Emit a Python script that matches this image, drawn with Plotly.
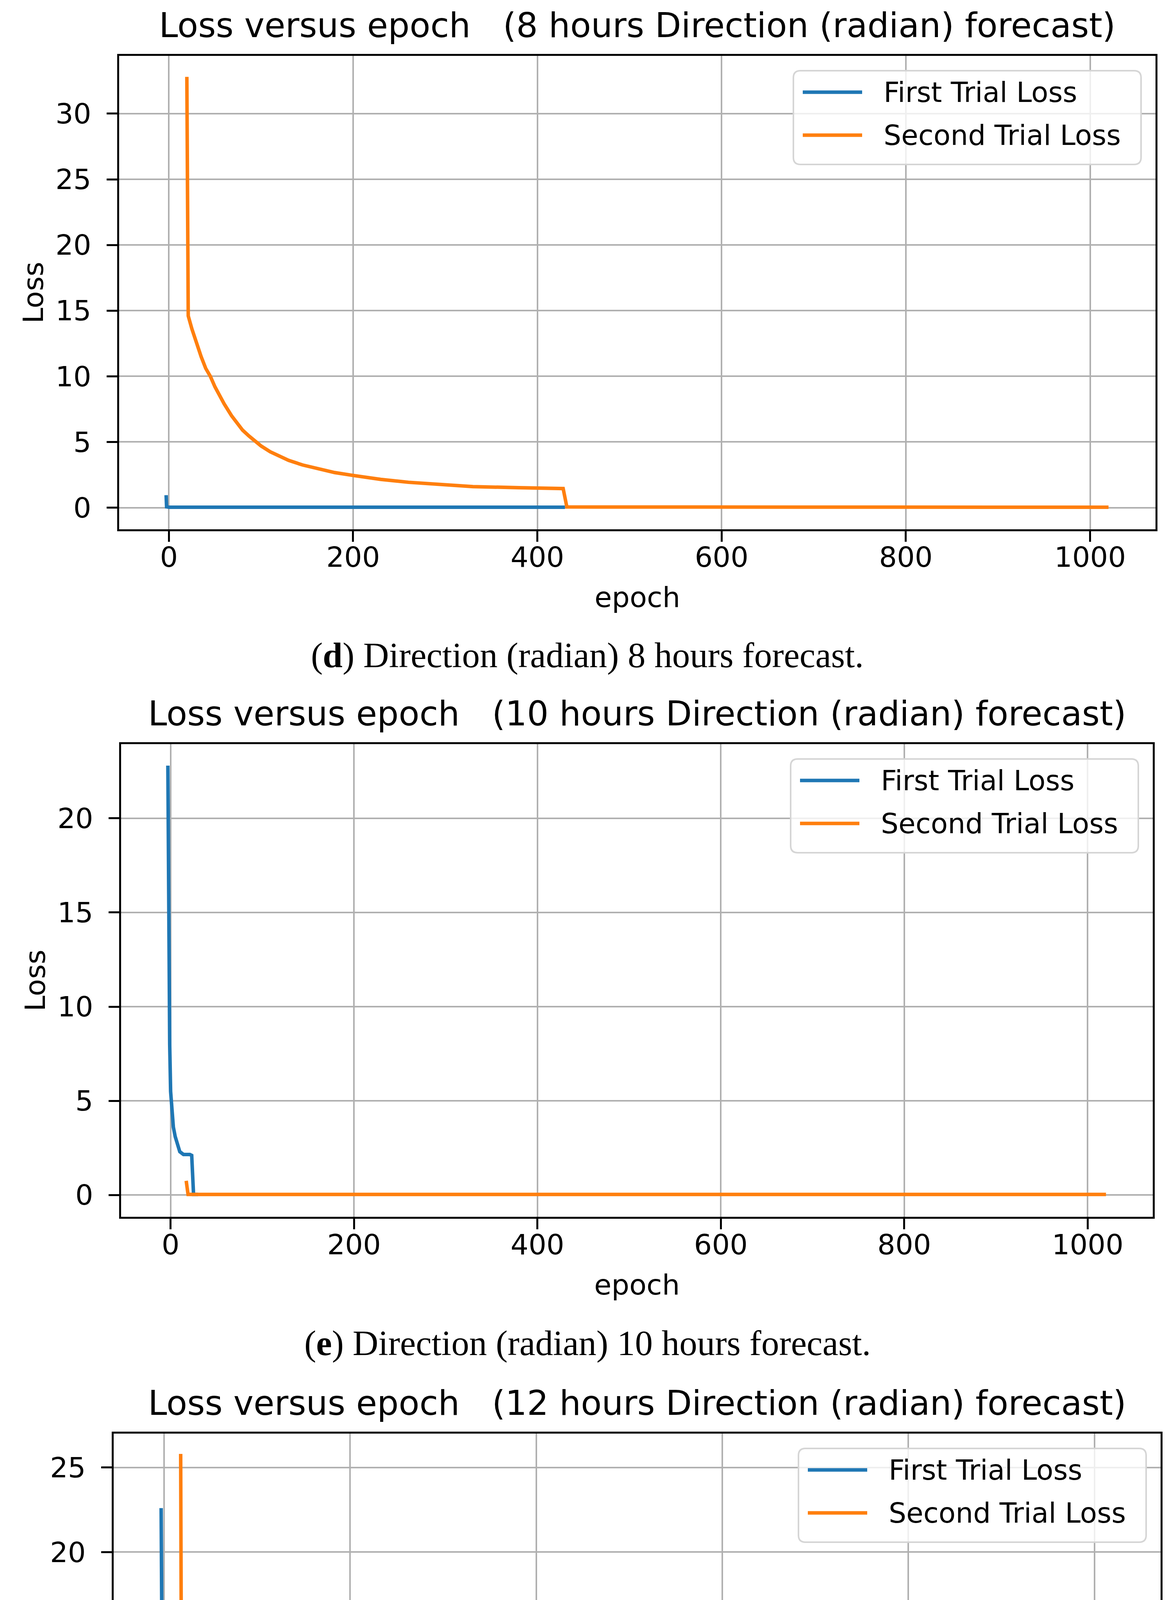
import plotly.graph_objects as go

W, H = 2990, 5306

# ---- data ----
# (d) 8 hours
epoch_8h_first = [-3, -2.5, 0, 100, 200, 300, 430]
loss_8h_first = [0.95, 0.06, 0.03, 0.03, 0.03, 0.03, 0.03]
epoch_8h_second = [19.5, 21, 25, 30, 35, 40, 45, 50, 55, 60, 68, 75, 80, 87, 94, 100,
                   110, 120, 130, 145, 162, 180, 200, 230, 260, 295, 330, 380, 428,
                   432, 600, 800, 1020]
loss_8h_second = [32.8, 14.6, 13.6, 12.5, 11.5, 10.6, 10.0, 9.2, 8.5, 7.9, 7.0, 6.4,
                  5.9, 5.45, 5.0, 4.7, 4.25, 3.9, 3.6, 3.25, 2.95, 2.67, 2.45, 2.15,
                  1.93, 1.75, 1.6, 1.52, 1.45, 0.05, 0.04, 0.03, 0.03]

# (e) 10 hours
epoch_10h_first = [-3, -2, -1, 0, 2, 3, 5, 7, 10, 14, 21, 23, 25, 30]
loss_10h_first = [22.8, 14.0, 8.0, 5.5, 4.0, 3.6, 3.1, 2.8, 2.3, 2.15, 2.15, 2.1, 0.03, 0.03]
epoch_10h_second = [17, 18.5, 19, 100, 500, 1020]
loss_10h_second = [0.75, 0.05, 0.03, 0.03, 0.03, 0.03]

# (f) 12 hours
epoch_12h_first = [-3, -1.5, 5, 15, 24, 33, 42, 51, 61, 70, 80, 90, 99, 110, 120, 136,
                   150, 165, 182, 200, 225, 249, 270, 290, 310, 327, 330, 400, 500, 614]
loss_12h_first = [22.6, 8.9, 8.3, 7.6, 7.1, 6.5, 5.95, 5.4, 4.93, 4.5, 4.1, 3.72, 3.39,
                  3.1, 2.85, 2.46, 2.18, 1.95, 1.73, 1.54, 1.36, 1.2, 1.13, 1.08, 1.03,
                  0.99, 0.05, 0.04, 0.04, 0.04]
epoch_12h_second = [18, 19, 21, 30, 42, 51, 61, 70, 80, 90, 99, 110, 120, 136, 150, 165,
                    182, 200, 220, 240, 262, 286, 310, 340, 400, 450, 500, 560, 614,
                    616.5, 700, 850, 1020]
loss_12h_second = [25.8, 8.4, 10.9, 9.9, 8.6, 7.9, 7.2, 6.5, 5.9, 5.35, 4.93, 4.5, 4.1,
                   3.6, 3.25, 2.95, 2.68, 2.46, 2.24, 2.05, 1.89, 1.75, 1.68, 1.62, 1.54,
                   1.45, 1.36, 1.31, 1.27, 0.04, 0.04, 0.04, 0.04]

series_names = ["First Trial Loss", "Second Trial Loss"]
x_ticks = [0, 200, 400, 600, 800, 1000]

BLUE = "#1f77b4"
ORANGE = "#ff7f0e"
SANS = "DejaVu Sans"
SERIF = "Liberation Serif"

# pixel boxes of the three axes (left, right, top, bottom) and y ranges
panels = [
    dict(box=(297, 2950, 135, 1347), yrange=[-1.65, 34.4], yticks=[0, 5, 10, 15, 20, 25, 30],
         hours=8, letter="d",
         first=(epoch_8h_first, loss_8h_first), second=(epoch_8h_second, loss_8h_second)),
    dict(box=(302, 2943, 1897, 3107), yrange=[-1.16, 23.94], yticks=[0, 5, 10, 15, 20],
         hours=10, letter="e",
         first=(epoch_10h_first, loss_10h_first), second=(epoch_10h_second, loss_10h_second)),
    dict(box=(283, 2963, 3662, 4890), yrange=[-1.33, 27.0], yticks=[0, 5, 10, 15, 20, 25],
         hours=12, letter="f",
         first=(epoch_12h_first, loss_12h_first), second=(epoch_12h_second, loss_12h_second)),
]


def px(x):
    return x / W


def py(y):
    return 1 - y / H


def rounded_box(x0, y0, x1, y1, r):
    # path in paper coordinates, corners given in pixels
    pts = [
        f"M{px(x0 + r)},{py(y0)}",
        f"L{px(x1 - r)},{py(y0)}",
        f"Q{px(x1)},{py(y0)} {px(x1)},{py(y0 + r)}",
        f"L{px(x1)},{py(y1 - r)}",
        f"Q{px(x1)},{py(y1)} {px(x1 - r)},{py(y1)}",
        f"L{px(x0 + r)},{py(y1)}",
        f"Q{px(x0)},{py(y1)} {px(x0)},{py(y1 - r)}",
        f"L{px(x0)},{py(y0 + r)}",
        f"Q{px(x0)},{py(y0)} {px(x0 + r)},{py(y0)}",
        "Z",
    ]
    return " ".join(pts)


fig = go.Figure()
layout = dict(
    width=W, height=H,
    margin=dict(l=0, r=0, t=0, b=0),
    paper_bgcolor="white", plot_bgcolor="white",
    showlegend=False,
    font=dict(family=SANS, size=72, color="black"),
)
annotations = []
shapes = []

for i, p in enumerate(panels, start=1):
    left, right, top, bottom = p["box"]
    suffix = "" if i == 1 else str(i)
    xa, ya = f"x{suffix}", f"y{suffix}"

    for (xs, ys), name, color in zip([p["first"], p["second"]], series_names, [BLUE, ORANGE]):
        fig.add_trace(go.Scatter(x=xs, y=ys, mode="lines", name=name,
                                 line=dict(color=color, width=9),
                                 xaxis=xa, yaxis=ya))

    axis_common = dict(
        showgrid=True, gridcolor="#b0b0b0", gridwidth=4,
        zeroline=False, showline=True, mirror=True,
        linecolor="black", linewidth=5,
        ticks="outside", ticklen=27, tickwidth=5, tickcolor="black",
        tickfont=dict(family=SANS, size=72, color="black"),
    )
    layout[f"xaxis{suffix}"] = dict(
        axis_common, domain=[px(left), px(right)], anchor=ya,
        range=[-54, 1071], tickvals=x_ticks, ticklabelstandoff=-22,
    )
    layout[f"yaxis{suffix}"] = dict(
        axis_common, domain=[py(bottom), py(top)], anchor=xa,
        range=p["yrange"], tickvals=p["yticks"], ticklabelstandoff=25,
    )

    cx = (left + right) / 2
    cy = (top + bottom) / 2
    title = ("Loss versus epoch" + "\u00a0" * 3 +
             f"({p['hours']} hours Direction (radian) forecast)")
    annotations += [
        dict(text=title, x=px(cx), y=py(top - 78), xref="paper", yref="paper",
             xanchor="center", yanchor="middle", showarrow=False,
             font=dict(family=SANS, size=87, color="black")),
        dict(text="epoch", x=px(cx), y=py(bottom + 174), xref="paper", yref="paper",
             xanchor="center", yanchor="middle", showarrow=False,
             font=dict(family=SANS, size=72, color="black")),
        dict(text="Loss", x=px(left - 220), y=py(cy), xref="paper", yref="paper",
             xanchor="center", yanchor="middle", showarrow=False, textangle=-90,
             font=dict(family=SANS, size=72, color="black")),
        dict(text=f"(<b>{p['letter']}</b>) Direction (radian) {p['hours']} hours forecast.",
             x=px(1496), y=py(bottom + 323), xref="paper", yref="paper",
             xanchor="center", yanchor="middle", showarrow=False,
             font=dict(family=SERIF, size=91, color="black")),
    ]

    # legend box in the upper right corner of each axes
    bx0, bx1 = right - 37 - 890, right - 37
    by0, by1 = top + 38, top + 38 + 240
    shapes.append(dict(type="path", path=rounded_box(bx0, by0, bx1, by1, 18),
                       xref="paper", yref="paper", layer="above",
                       fillcolor="rgba(255,255,255,0.8)",
                       line=dict(color="#d5d5d5", width=4)))
    for k, (name, color) in enumerate(zip(series_names, [BLUE, ORANGE])):
        ly = by0 + 55 + k * 110
        shapes.append(dict(type="line", xref="paper", yref="paper", layer="above",
                           x0=px(bx0 + 24), x1=px(bx0 + 176), y0=py(ly), y1=py(ly),
                           line=dict(color=color, width=9)))
        annotations.append(dict(text=name, x=px(bx0 + 229), y=py(ly),
                                xref="paper", yref="paper", xanchor="left",
                                yanchor="middle", showarrow=False,
                                font=dict(family=SANS, size=71, color="black")))

layout["annotations"] = annotations
layout["shapes"] = shapes
fig.update_layout(**layout)

fig.write_html("out.html")
